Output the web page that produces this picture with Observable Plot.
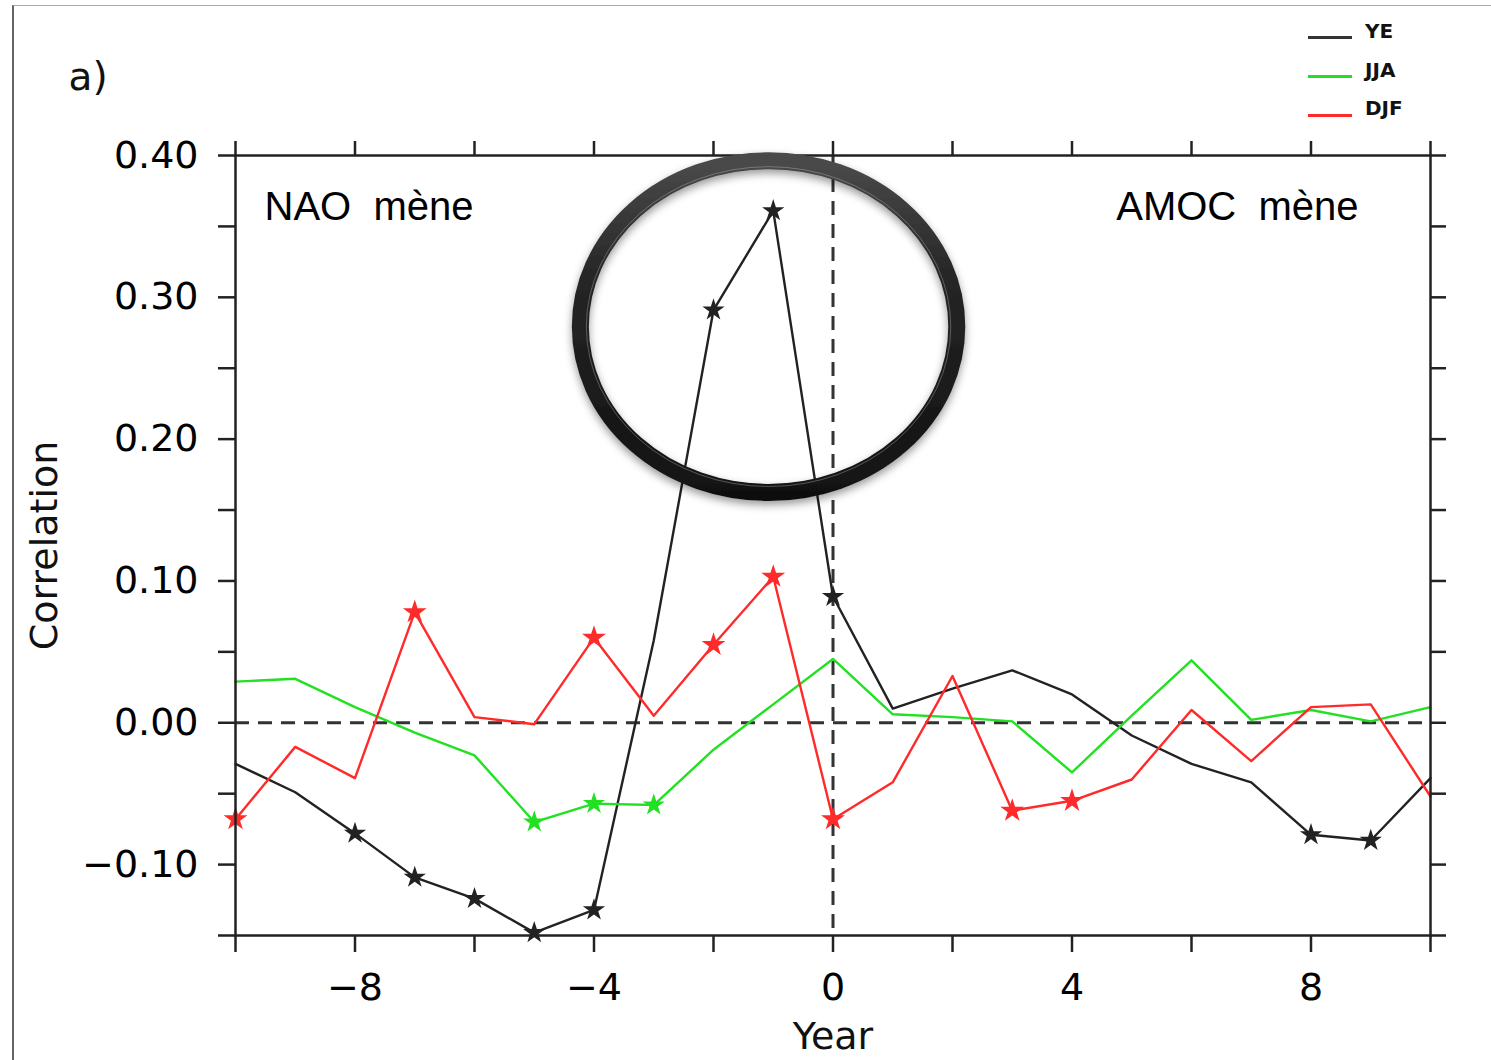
<!DOCTYPE html>
<html>
<head>
<meta charset="utf-8">
<script src="https://cdn.jsdelivr.net/npm/d3@7"></script>
<script src="https://cdn.jsdelivr.net/npm/@observablehq/plot@0.6"></script>
<style>
  html, body { margin: 0; padding: 0; background: #fff; }
  #wrap { position: relative; width: 1491px; height: 1060px; overflow: hidden; background: #fff; }
  #border { position: absolute; left: 12px; top: 5px; right: -5px; bottom: -5px; border-left: 2px solid #666; border-top: 1px solid #aaa; pointer-events: none; }
  .leg { position: absolute; font-family: "DejaVu Sans", sans-serif; font-weight: bold; font-size: 20px; color: #111; }
  .legline { position: absolute; height: 3px; width: 44px; left: 1308px; }
</style>
</head>
<body>
<div id="wrap">
  <div id="chart"></div>
  <div id="border"></div>
  <div class="legline" style="top:36px;background:#333"></div>
  <div class="leg" style="left:1365px;top:19px">YE</div>
  <div class="legline" style="top:75px;background:#22e022"></div>
  <div class="leg" style="left:1365px;top:58px">JJA</div>
  <div class="legline" style="top:114px;background:#ff2a2a"></div>
  <div class="leg" style="left:1365px;top:96px">DJF</div>
</div>
<script>
// ---- data ----
const years = [-10,-9,-8,-7,-6,-5,-4,-3,-2,-1,0,1,2,3,4,5,6,7,8,9,10];
const ye  = [-0.029,-0.049,-0.078,-0.109,-0.124,-0.148,-0.132,0.058,0.291,0.361,0.089,0.010,0.024,0.037,0.020,-0.009,-0.029,-0.042,-0.079,-0.083,-0.039];
const jja = [0.029,0.031,0.011,-0.007,-0.023,-0.070,-0.057,-0.058,-0.019,0.013,0.045,0.006,0.004,0.001,-0.035,0.005,0.044,0.002,0.009,0.001,0.011];
const djf = [-0.068,-0.017,-0.039,0.078,0.004,-0.001,0.060,0.005,0.055,0.103,-0.068,-0.042,0.033,-0.062,-0.055,-0.040,0.009,-0.027,0.011,0.013,-0.052];
const yeStars  = [-8,-7,-6,-5,-4,-2,-1,0,8,9];
const jjaStars = [-5,-4,-3];
const djfStars = [-10,-7,-4,-2,-1,0,3,4];
const xTicks  = [-10,-8,-6,-4,-2,0,2,4,6,8,10];
const xLabels = [-8,-4,0,4,8];
const yTicks  = [-0.15,-0.10,-0.05,0,0.05,0.10,0.15,0.20,0.25,0.30,0.35,0.40];
const yLabels = [-0.10,0,0.10,0.20,0.30,0.40];
// highlight ring (data coordinates)
const ringYear = -1.07, ringCorr = 0.279, ringRxYears = 3.15, ringRyCorr = 0.117;

const C_YE = "#222", C_JJA = "#22e022", C_DJF = "#ff2a2a";
const rows = (vals) => years.map((x, i) => ({x, y: vals[i]}));
const starRows = (vals, s) => years.map((x, i) => ({x, y: vals[i]})).filter(d => s.includes(d.x));
const fmt = d3.format(".2f");
const near = (a, list) => list.some(v => Math.abs(v - a) < 1e-9);

const chart = Plot.plot({
  width: 1491, height: 1060,
  marginLeft: 235, marginRight: 61, marginTop: 155, marginBottom: 125,
  style: {fontFamily: "DejaVu Sans, sans-serif", fontSize: "38px", background: "transparent", overflow: "visible"},
  x: {domain: [-10, 10]},
  y: {domain: [-0.15, 0.40]},
  marks: [
    Plot.ruleY([0], {stroke: "#333", strokeWidth: 3, strokeDasharray: "14,9"}),
    Plot.ruleX([0], {stroke: "#333", strokeWidth: 3, strokeDasharray: "14,9"}),
    Plot.line(rows(ye),  {x: "x", y: "y", stroke: C_YE,  strokeWidth: 2.4}),
    Plot.line(rows(jja), {x: "x", y: "y", stroke: C_JJA, strokeWidth: 2.4}),
    Plot.line(rows(djf), {x: "x", y: "y", stroke: C_DJF, strokeWidth: 2.4}),
    Plot.dot(starRows(ye, yeStars),   {x: "x", y: "y", symbol: "star", fill: C_YE,  r: 7}),
    Plot.dot(starRows(jja, jjaStars), {x: "x", y: "y", symbol: "star", fill: C_JJA, r: 7}),
    Plot.dot(starRows(djf, djfStars), {x: "x", y: "y", symbol: "star", fill: C_DJF, r: 7.5}),
    Plot.frame({stroke: "#222", strokeWidth: 2.5}),
    Plot.axisX({anchor: "bottom", ticks: xTicks, tickSize: 17, tickPadding: 21, stroke: "#222", strokeWidth: 2.5, label: null,
      tickFormat: d => near(d, xLabels) ? d3.format("d")(d) : ""}),
    Plot.axisX({anchor: "top", ticks: xTicks, tickSize: 15, stroke: "#222", strokeWidth: 2.5, label: null, tickFormat: () => ""}),
    Plot.axisY({anchor: "left", ticks: yTicks, tickSize: 17, tickPadding: 20, stroke: "#222", strokeWidth: 2.5, label: null,
      tickFormat: d => near(d, yLabels) ? fmt(d) : ""}),
    Plot.axisY({anchor: "right", ticks: yTicks, tickSize: 15, stroke: "#222", strokeWidth: 2.5, label: null, tickFormat: () => ""}),
    Plot.text(["Year"], {frameAnchor: "bottom", lineAnchor: "top", dy: 87, fontSize: 38, fill: "#111"}),
    Plot.text(["Correlation"], {frameAnchor: "left", textAnchor: "middle", lineAnchor: "middle", rotate: -90, dx: -191, fontSize: 38, fill: "#111"}),
    Plot.text(["a)"], {frameAnchor: "top-left", textAnchor: "start", lineAnchor: "middle", dx: -167, dy: -78, fontSize: 39, fill: "#111"}),
    Plot.text(["NAO\u00a0 mène"], {frameAnchor: "top-left", textAnchor: "start", lineAnchor: "middle", dx: 29, dy: 52,
      fontSize: 40, fontFamily: "Liberation Sans, Arial, sans-serif", fill: "#000"}),
    Plot.text(["AMOC\u00a0 mène"], {frameAnchor: "top-right", textAnchor: "end", lineAnchor: "middle", dx: -72, dy: 52,
      fontSize: 40, fontFamily: "Liberation Sans, Arial, sans-serif", fill: "#000"})
  ]
});
document.getElementById("chart").appendChild(chart);

// ring annotation drawn through the plot's scales
const sx = chart.scale("x"), sy = chart.scale("y");
const cx = sx.apply(ringYear), cy = sy.apply(ringCorr);
const rx = sx.apply(ringYear + ringRxYears) - cx;
const ry = cy - sy.apply(ringCorr + ringRyCorr);
const svg = d3.select(chart);
const defs = svg.append("defs");
const g = defs.append("linearGradient").attr("id", "ringGrad").attr("x1", 0).attr("y1", 0).attr("x2", 0).attr("y2", 1);
g.append("stop").attr("offset", "0%").attr("stop-color", "#4a4a4a");
g.append("stop").attr("offset", "35%").attr("stop-color", "#262626");
g.append("stop").attr("offset", "100%").attr("stop-color", "#111");
const f = defs.append("filter").attr("id", "ringShadow").attr("x", "-20%").attr("y", "-20%").attr("width", "140%").attr("height", "140%");
f.append("feDropShadow").attr("dx", 0).attr("dy", 4).attr("stdDeviation", 4).attr("flood-color", "#000").attr("flood-opacity", 0.4);
const ring = svg.append("g");
ring.append("ellipse").attr("cx", cx).attr("cy", cy).attr("rx", rx).attr("ry", ry)
  .attr("fill", "none").attr("stroke", "url(#ringGrad)").attr("stroke-width", 17).attr("filter", "url(#ringShadow)");
ring.append("ellipse").attr("cx", cx).attr("cy", cy).attr("rx", rx - 6).attr("ry", ry - 6)
  .attr("fill", "none").attr("stroke", "#ccc").attr("stroke-opacity", 0.35).attr("stroke-width", 1);
</script>
</body>
</html>
